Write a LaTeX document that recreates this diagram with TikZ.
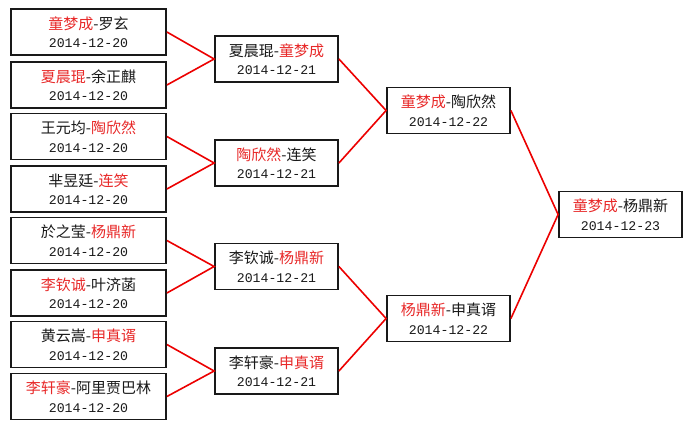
\documentclass[tikz,border=0pt]{standalone}
\usepackage{fontspec}
\newfontfamily\cjk{Noto Sans CJK SC}
\setmonofont{Liberation Mono}
\usetikzlibrary{positioning}
\definecolor{winred}{RGB}{232,40,40}
\definecolor{linkred}{RGB}{236,0,0}
\newcommand{\win}[1]{\textcolor{winred}{#1}}
\newcommand{\gamedate}[1]{{\ttfamily\fontsize{13.2}{18}\selectfont #1}}

\begin{document}
\begin{tikzpicture}[
				x=1pt, y=-1pt,
				game/.style={draw=black!90, line width=1.8pt, fill=white, text=black!90, minimum width=123pt, minimum height=46pt, inner sep=0pt, align=center, font=\cjk\fontsize{15}{18.5}\selectfont},
				first/.style={game, minimum width=155pt},
				link/.style={linkred, line width=1.6pt}
				]
				\fill[white] (0,0) rectangle (692,429);
				\useasboundingbox (0,0) rectangle (692,429);
				% first round
				\node[first] (p1) at (88.5,32) {\win{童梦成}-罗玄\\\gamedate{2014-12-20}};
				\node[first] (p2) at (88.5,85) {\win{夏晨琨}-余正麒\\\gamedate{2014-12-20}};
				\node[first] (p3) at (88.5,136.5) {王元均-\win{陶欣然}\\\gamedate{2014-12-20}};
				\node[first] (p4) at (88.5,189) {芈昱廷-\win{连笑}\\\gamedate{2014-12-20}};
				\node[first] (p5) at (88.5,240.5) {於之莹-\win{杨鼎新}\\\gamedate{2014-12-20}};
				\node[first] (p6) at (88.5,293) {\win{李钦诚}-叶济菡\\\gamedate{2014-12-20}};
				\node[first] (p7) at (88.5,344.5) {黄云嵩-\win{申真谞}\\\gamedate{2014-12-20}};
				\node[first] (p8) at (88.5,396.5) {\win{李轩豪}-阿里贾巴林\\\gamedate{2014-12-20}};
				% second round
				\node[game] (q1) at (276.5,59) {夏晨琨-\win{童梦成}\\\gamedate{2014-12-21}};
				\node[game] (q2) at (276.5,163) {\win{陶欣然}-连笑\\\gamedate{2014-12-21}};
				\node[game] (q3) at (276.5,266.5) {李钦诚-\win{杨鼎新}\\\gamedate{2014-12-21}};
				\node[game] (q4) at (276.5,371) {李轩豪-\win{申真谞}\\\gamedate{2014-12-21}};
				% semi finals
				\node[game] (s1) at (448.5,110.5) {\win{童梦成}-陶欣然\\\gamedate{2014-12-22}};
				\node[game] (s2) at (448.5,318.5) {\win{杨鼎新}-申真谞\\\gamedate{2014-12-22}};
				% final
				\node[game] (f) at (620.5,214.5) {\win{童梦成}-杨鼎新\\\gamedate{2014-12-23}};
				\draw[link] (p1.east) -- (q1.west) -- (p2.east);
				\draw[link] (p3.east) -- (q2.west) -- (p4.east);
				\draw[link] (p5.east) -- (q3.west) -- (p6.east);
				\draw[link] (p7.east) -- (q4.west) -- (p8.east);
				\draw[link] (q1.east) -- (s1.west) -- (q2.east);
				\draw[link] (q3.east) -- (s2.west) -- (q4.east);
				\draw[link] (s1.east) -- (f.west) -- (s2.east);
			\end{tikzpicture}
\end{document}
